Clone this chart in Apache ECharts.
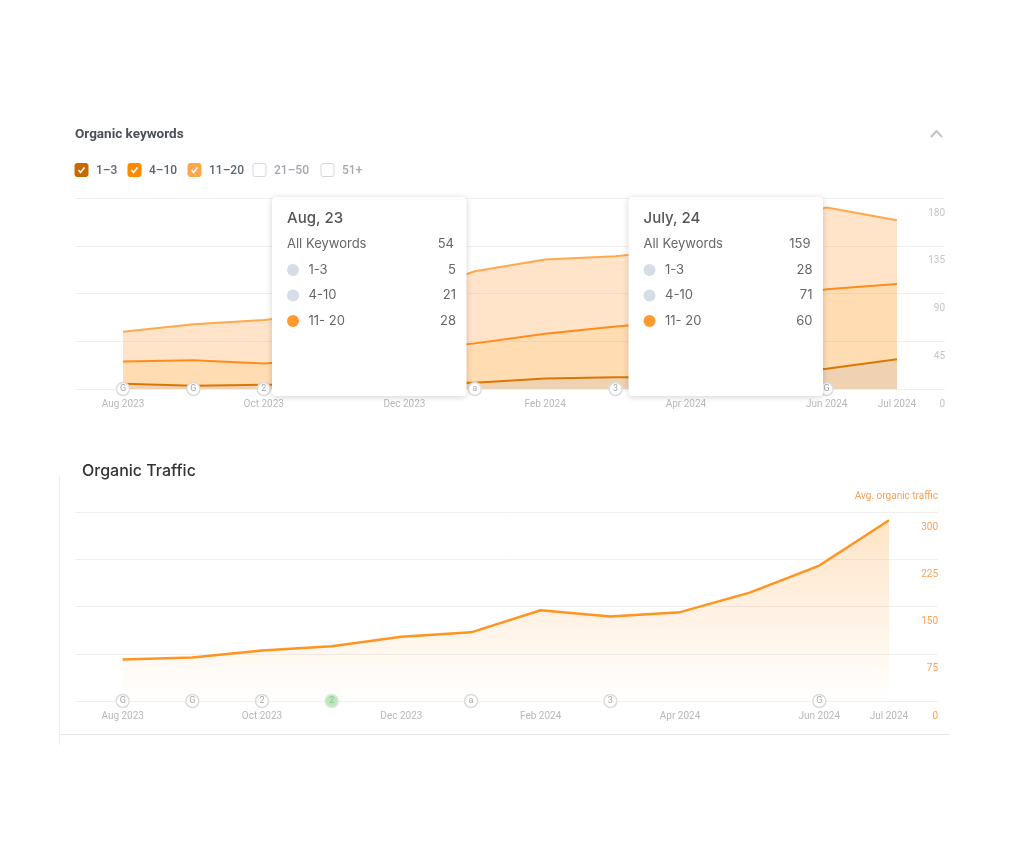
<!DOCTYPE html>
<html>
<head>
<meta charset="utf-8">
<title>Organic keywords and traffic</title>
<style>
    html, body { margin: 0; padding: 0; background: #fff; }
    #main { width: 1024px; height: 850px; }
</style>
<script src="https://cdn.jsdelivr.net/npm/echarts@6/dist/echarts.min.js"></script>
</head>
<body>
<div id="main"></div>
<script>
const months = ['Aug 2023', 'Sep 2023', 'Oct 2023', 'Nov 2023', 'Dec 2023', 'Jan 2024', 'Feb 2024', 'Mar 2024', 'Apr 2024', 'May 2024', 'Jun 2024', 'Jul 2024'];
const labelledMonths = ['Aug 2023', 'Oct 2023', 'Dec 2023', 'Feb 2024', 'Apr 2024', 'Jun 2024', 'Jul 2024'];

// keywords per position group, stacked in the chart
const pos1to3 = [5, 3, 4, 4, 6, 6, 10, 11, 11, 15, 19, 28];
const pos4to10 = [21, 24, 20, 24, 30, 37, 42, 48, 53, 65, 75, 71];
const pos11to20 = [28, 34, 41, 44, 52, 68, 70, 66, 68, 75, 77, 60];
const traffic = [66, 69, 80, 87, 102, 109, 144, 134, 141, 172, 215, 287];

const keywordTicks = [0, 45, 90, 135, 180];
const trafficTicks = [0, 75, 150, 225, 300];

// little update markers sitting on the zero line
const updateMarkers = ['G', 'G', '2', '2', '', 'a', '', '3', '', '', 'G', ''];
const greenMarker = 3;      // only lit up in the traffic chart

const legendNames = ['1–3', '4–10', '11–20', '21–50', '51+'];
const tooltipNames = ['1-3', '4-10', '11- 20'];

const uiFont = 'Roboto';
const popFont = 'Inter';

function areaSeries(name, data, lineColor, fillColor){
    return {
        name: name,
        type: 'line',
        stack: 'keywords',
        data: data,
        xAxisIndex: 1,
        yAxisIndex: 1,
        showSymbol: false,
        lineStyle: { color: lineColor, width: 2 },
        itemStyle: { color: lineColor },
        areaStyle: { color: fillColor, opacity: 1 }
    };
}

function markerSeries(axisIndex, green){
    let data = [];
    updateMarkers.forEach((m, i) => {
        if(m === '') return;
        let isGreen = green === i;
        data.push({
            value: [i, 0],
            label: { formatter: m, color: isGreen ? '#8cc98c' : '#a8a8a8' },
            itemStyle: { color: isGreen ? '#bfe5bf' : '#fff', borderColor: isGreen ? '#d5ecd5' : '#dcdcdc' }
        });
    });
    return {
        type: 'scatter',
        data: data,
        xAxisIndex: axisIndex,
        yAxisIndex: axisIndex,
        symbolSize: 13,
        clip: false,
        z: 5,
        silent: true,
        itemStyle: { borderWidth: 1.5, opacity: 1 },
        label: { show: true, position: 'inside', fontSize: 9, fontFamily: uiFont }
    };
}

// wide grid only carries gridlines and y labels, the narrow one carries the months
function hiddenX(gridIndex){
    return { type: 'category', gridIndex: gridIndex, show: false, data: months };
}

function monthX(gridIndex){
    return {
        type: 'category',
        gridIndex: gridIndex,
        boundaryGap: false,
        data: months,
        axisLine: { show: false },
        axisTick: { show: false },
        splitLine: { show: false },
        axisLabel: {
            interval: (i, name) => labelledMonths.indexOf(name) > -1,
            color: '#b8b8b8',
            fontSize: 10,
            fontFamily: uiFont,
            margin: 10
        }
    };
}

function tickY(gridIndex, ticks, color){
    return {
        type: 'value',
        gridIndex: gridIndex,
        position: 'right',
        min: ticks[0],
        max: ticks[ticks.length - 1],
        interval: ticks[1] - ticks[0],
        axisLine: { show: false },
        axisTick: { show: false },
        splitLine: { lineStyle: { color: '#f0f0f0', width: 1 } },
        axisLabel: {
            inside: true,
            margin: 0,
            color: color,
            fontSize: 10,
            fontFamily: uiFont,
            verticalAlign: 'top',
            padding: [10, 0, 0, 0]
        }
    };
}

function hiddenY(gridIndex, ticks){
    return { type: 'value', gridIndex: gridIndex, show: false, min: ticks[0], max: ticks[ticks.length - 1] };
}

// checkbox row above the keywords chart
function legendGraphics(){
    let boxX = [75, 128, 188, 253, 321];
    let boxColor = ['#c96a00', '#ff8a00', '#ffa64d'];
    let els = [];
    legendNames.forEach((name, i) => {
        let on = i < boxColor.length;
        els.push({
            type: 'rect',
            shape: { x: boxX[i], y: 163.5, width: 13, height: 13, r: 2 },
            style: { fill: on ? boxColor[i] : '#fff', stroke: on ? boxColor[i] : '#d4d7dc', lineWidth: 1 },
            z: 20
        });
        if(on){
            els.push({
                type: 'polyline',
                shape: { points: [[boxX[i] + 3.5, 170], [boxX[i] + 5.5, 172.5], [boxX[i] + 9.5, 167.5]] },
                style: { stroke: '#fff', lineWidth: 1.6, fill: null },
                z: 21
            });
        }
        els.push({
            type: 'text',
            style: {
                x: boxX[i] + 21, y: 171, text: name,
                font: '500 12px ' + uiFont,
                fill: on ? '#5d6572' : '#a3a8b0',
                verticalAlign: 'middle'
            },
            z: 20
        });
    });
    return els;
}

// the two fixed hover cards, filled from the series arrays
function cardGraphics(left, title, idx){
    let groups = [pos1to3, pos4to10, pos11to20];
    let total = groups.reduce((s, g) => s + g[idx], 0);
    let textX = left + 15;
    let valueX = left + 184;
    let els = [{
        type: 'rect',
        shape: { x: left, y: 197, width: 194.5, height: 199, r: 4 },
        style: { fill: '#fff', shadowBlur: 6, shadowColor: 'rgba(0,0,0,0.18)', shadowOffsetY: 1 },
        z: 100
    }, {
        type: 'text',
        style: { x: textX, y: 218, text: title, font: '500 15px ' + popFont, fill: '#555', verticalAlign: 'middle' },
        z: 101
    }, {
        type: 'text',
        style: { x: textX, y: 244, text: 'All Keywords', font: '13px ' + popFont, fill: '#666', verticalAlign: 'middle' },
        z: 101
    }, {
        type: 'text',
        style: { x: valueX - 2, y: 244, text: String(total), font: '13px ' + popFont, fill: '#666', align: 'right', verticalAlign: 'middle' },
        z: 101
    }];
    tooltipNames.forEach((name, i) => {
        let y = 270 + i * 25.5;
        els.push({
            type: 'circle',
            shape: { cx: textX + 6, cy: y, r: 6 },
            style: { fill: i === 2 ? '#ff9a2e' : '#d6dde7' },
            z: 101
        }, {
            type: 'text',
            style: { x: textX + 21.5, y: y, text: name, font: '13px ' + popFont, fill: '#666', verticalAlign: 'middle' },
            z: 101
        }, {
            type: 'text',
            style: { x: valueX, y: y, text: String(groups[i][idx]), font: '13px ' + popFont, fill: '#666', align: 'right', verticalAlign: 'middle' },
            z: 101
        });
    });
    return els;
}

let myChart = echarts.init(document.getElementById('main'), null, { renderer: 'canvas' });

let option = {
    backgroundColor: '#fff',
    animation: false,
    title: [{
        text: 'Organic keywords',
        left: 75,
        top: 128,
        padding: 0,
        textStyle: { fontFamily: uiFont, fontSize: 13.5, fontWeight: 'bold', color: '#4a4f59' }
    }, {
        text: 'Organic Traffic',
        left: 82,
        top: 463,
        padding: 0,
        textStyle: { fontFamily: popFont, fontSize: 16, fontWeight: 500, color: '#333' }
    }],
    grid: [
        { left: 75, width: 870, top: 198, height: 191 },
        { left: 123, width: 774, top: 198, height: 191 },
        { left: 75, width: 863, top: 512, height: 189 },
        { left: 122.7, width: 766.3, top: 512, height: 189 }
    ],
    xAxis: [hiddenX(0), monthX(1), hiddenX(2), monthX(3)],
    yAxis: [
        tickY(0, keywordTicks, '#c4c4c4'),
        hiddenY(1, keywordTicks),
        tickY(2, trafficTicks, '#ff9f50'),
        hiddenY(3, trafficTicks)
    ],
    series: [
        areaSeries(legendNames[0], pos1to3, '#d97706', 'rgba(201,106,0,0.3)'),
        areaSeries(legendNames[1], pos4to10, '#ff8c1a', 'rgba(255,140,0,0.3)'),
        areaSeries(legendNames[2], pos11to20, '#ffa94d', 'rgba(255,166,77,0.3)'),
        markerSeries(1, -1),
        {
            name: 'Avg. organic traffic',
            type: 'line',
            data: traffic,
            xAxisIndex: 3,
            yAxisIndex: 3,
            showSymbol: false,
            lineStyle: { color: '#ff9420', width: 2.5 },
            itemStyle: { color: '#ff9420' },
            areaStyle: {
                color: new echarts.graphic.LinearGradient(0, 0, 0, 1, [
                    { offset: 0, color: 'rgba(255,148,32,0.36)' },
                    { offset: 1, color: 'rgba(255,148,32,0)' }
                ])
            }
        },
        markerSeries(3, greenMarker)
    ],
    graphic: {
        elements: [
            {
                type: 'polyline',
                shape: { points: [[931, 137], [936.5, 131], [942, 137]] },
                style: { stroke: '#c4c4c4', lineWidth: 2, fill: null }
            },
            {
                type: 'text',
                style: { x: 938, y: 496, text: 'Avg. organic traffic', font: '10px ' + uiFont, fill: '#ff9f50', align: 'right', verticalAlign: 'middle' }
            },
            // frame round the traffic panel
            { type: 'line', shape: { x1: 59.5, y1: 475, x2: 59.5, y2: 745 }, style: { stroke: '#efefef', lineWidth: 1 } },
            { type: 'line', shape: { x1: 60, y1: 734.5, x2: 950, y2: 734.5 }, style: { stroke: '#e8e8e8', lineWidth: 1 } }
        ].concat(legendGraphics(), cardGraphics(272, 'Aug, 23', 0), cardGraphics(628.5, 'July, 24', 11))
    }
};
myChart.setOption(option);
</script>
</body>
</html>
